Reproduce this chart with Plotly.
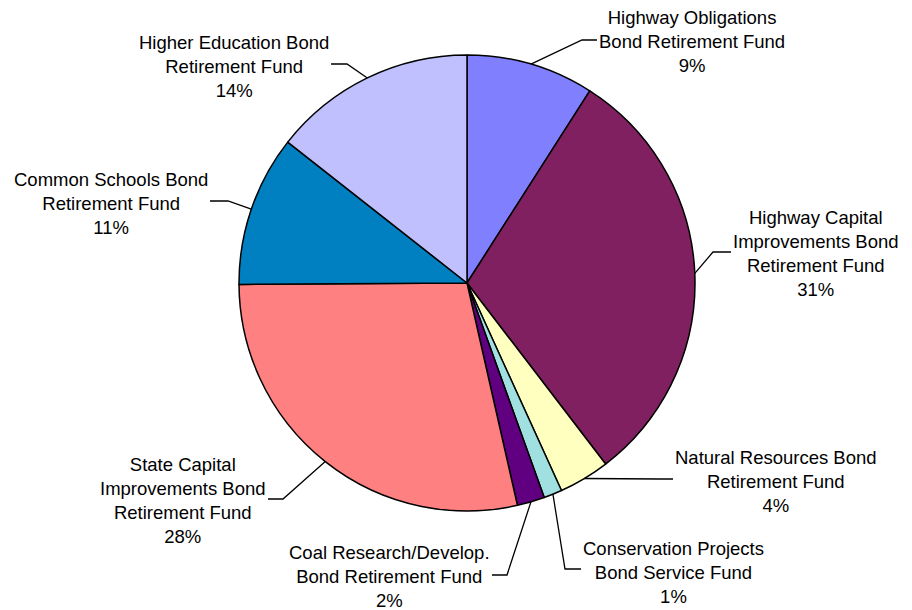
import plotly.graph_objects as go
import math

# ---- data ----
categories = [
    "Highway Obligations<br>Bond Retirement Fund",
    "Highway Capital<br>Improvements Bond<br>Retirement Fund",
    "Natural Resources Bond<br>Retirement Fund",
    "Conservation Projects<br>Bond Service Fund",
    "Coal Research/Develop.<br>Bond Retirement Fund",
    "State Capital<br>Improvements Bond<br>Retirement Fund",
    "Common Schools Bond<br>Retirement Fund",
    "Higher Education Bond<br>Retirement Fund",
]
values = [9.05, 30.55, 3.6, 1.3, 1.95, 28.45, 10.7, 14.4]
colors = ["#8080FF", "#802060", "#FFFFC0", "#A0E0E0", "#600080", "#FF8080", "#0080C0", "#C0C0FF"]

# ---- layout (pixels) ----
W, H = 912, 610
CX, CY, R = 467, 283, 228
FONT = dict(family="Liberation Sans, Arial, sans-serif", size=18.5, color="black")

# per label: (side, text edge x, block centre y, stub y, elbow x)
label_layout = [
    ("left", 597, 41, 40, 582),
    ("left", 731, 254, 252, 713),
    ("left", 673, 481, 479, 660),
    ("left", 581, 572, 569, 565),
    ("right", 492, 576, 575, 507),
    ("right", 268, 500, 499, 283),
    ("right", 210, 203, 201, 228),
    ("right", 331, 67, 64, 347),
]

def px(x):
    return x / W

def py(y):
    return 1 - y / H

fig = go.Figure(go.Pie(
    labels=categories,
    values=values,
    sort=False,
    direction="clockwise",
    rotation=0,
    marker=dict(colors=colors, line=dict(color="black", width=1.5)),
    textinfo="none",
    hoverinfo="label+percent",
    showlegend=False,
    domain=dict(x=[px(CX - R), px(CX + R)], y=[py(CY + R), py(CY - R)]),
))

total = sum(values)
annotations = []
shapes = []
cum = 0.0
for cat, v, (side, ex, cy_lab, sy, elx) in zip(categories, values, label_layout):
    mid = (cum + v / 2) / total * 2 * math.pi
    cum += v
    ax = CX + R * math.sin(mid)
    ay = CY - R * math.cos(mid)
    pct = int(math.floor(v / total * 100 + 0.5))
    annotations.append(dict(
        x=px(ex), y=py(cy_lab), xref="paper", yref="paper",
        xanchor=side, yanchor="middle", align="center",
        text=f"{cat}<br>{pct}%", showarrow=False, font=FONT,
    ))
    shapes.append(dict(
        type="path", xref="paper", yref="paper",
        path=f"M {px(ax)} {py(ay)} L {px(elx)} {py(sy)} L {px(ex)} {py(sy)}",
        line=dict(color="black", width=1.3),
    ))

fig.update_layout(
    width=W, height=H, autosize=False,
    margin=dict(l=0, r=0, t=0, b=0),
    paper_bgcolor="white", plot_bgcolor="white",
    annotations=annotations, shapes=shapes,
)

fig.write_html(
    "out.html",
    config={"displayModeBar": False},
    post_script="document.body.style.margin='0';document.body.style.padding='0';document.body.style.overflow='hidden';",
)
